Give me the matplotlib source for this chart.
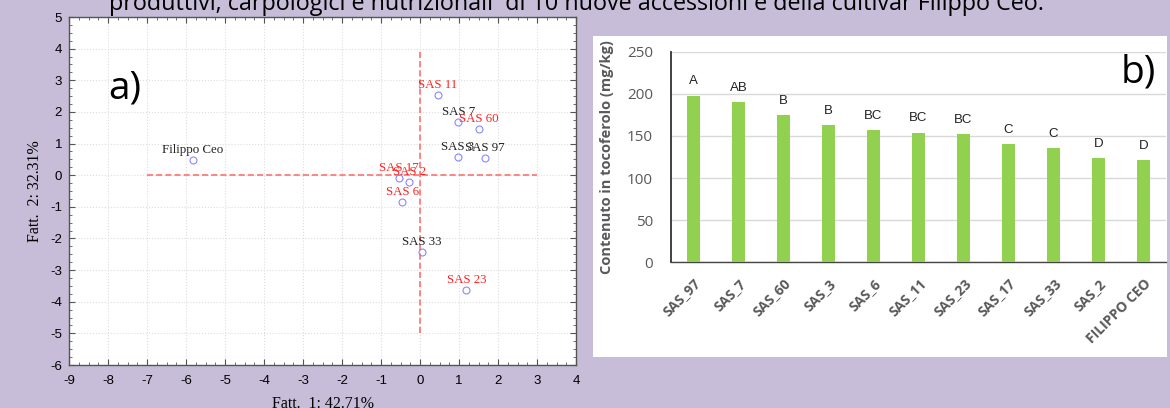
import matplotlib.pyplot as plt
from matplotlib.patches import Rectangle
from matplotlib.ticker import MultipleLocator

plt.rcParams["axes.unicode_minus"] = False

# PCA scores (panel a)
pca_names = ["Filippo Ceo", "SAS 11", "SAS 7", "SAS 60", "SAS 3", "SAS 97",
             "SAS 17", "SAS 2", "SAS 6", "SAS 33", "SAS 23"]
pca_f1 = [-5.82, 0.45, 0.98, 1.52, 0.97, 1.66, -0.53, -0.27, -0.45, 0.04, 1.19]
pca_f2 = [0.47, 2.54, 1.69, 1.47, 0.57, 0.55, -0.10, -0.22, -0.84, -2.44, -3.64]
pca_red = [False, True, False, True, False, False, True, True, True, False, True]

# tocopherol content (panel b)
cultivars = ["SAS_97", "SAS_7", "SAS_60", "SAS_3", "SAS_6", "SAS_11", "SAS_23",
             "SAS_17", "SAS_33", "SAS_2", "FILIPPO CEO"]
tocoferolo = [198, 190, 175, 163, 157, 154, 152, 140.5, 135.5, 123.5, 121.5]
lettere = ["A", "AB", "B", "B", "BC", "BC", "BC", "C", "C", "D", "D"]

bg = "#c7bdd9"
fig = plt.figure(figsize=(11.7, 4.08), dpi=100, facecolor=bg)

fig.text(109 / 1170, 1 - 10 / 408,
         "produttivi, carpologici e nutrizionali  di 10 nuove accessioni e della cultivar Filippo Ceo.",
         fontsize=16.8, family="Open Sans", va="baseline", ha="left", color="black")

# ---- panel a ----
ax1 = fig.add_axes([69 / 1170, 43 / 408, 507 / 1170, 348 / 408])
ax1.set_facecolor("white")
ax1.set_xlim(-9, 4)
ax1.set_ylim(-6, 5)
ax1.xaxis.set_major_locator(MultipleLocator(1))
ax1.yaxis.set_major_locator(MultipleLocator(1))
ax1.xaxis.set_minor_locator(MultipleLocator(0.25))
ax1.yaxis.set_minor_locator(MultipleLocator(0.25))
ax1.tick_params(which="both", direction="in", top=True, right=True, color="#555555")
ax1.tick_params(which="major", length=4, labelsize=9.5)
ax1.tick_params(axis="x", which="major", pad=7)
ax1.tick_params(axis="y", which="major", pad=5)
ax1.tick_params(which="minor", length=2)
for lab in ax1.get_xticklabels() + ax1.get_yticklabels():
    lab.set_family("Liberation Sans")
ax1.grid(True, which="major", color="#dddddd", linestyle=":", linewidth=0.8)
ax1.set_axisbelow(True)
for s in ax1.spines.values():
    s.set_color("#555555")
    s.set_linewidth(1.0)

ax1.plot([-7, 3], [0, 0], color="#ff6666", linestyle=(0, (4, 2)), linewidth=1.1)
ax1.plot([0, 0], [-5, 4], color="#ff6666", linestyle=(0, (4, 2)), linewidth=1.1)

ax1.plot(pca_f1, pca_f2, linestyle="none", marker="o", markersize=5,
         markerfacecolor="none", markeredgecolor="#8888ff", markeredgewidth=0.8)
for name, x, y, red in zip(pca_names, pca_f1, pca_f2, pca_red):
    ax1.annotate(name, (x, y), xytext=(0, 3), textcoords="offset points",
                 ha="center", va="bottom", fontsize=9.3, family="Liberation Serif",
                 color="#ff2222" if red else "#222222")

ax1.set_xlabel("Fatt.  1: 42.71%", family="Liberation Serif", fontsize=11.5, labelpad=7)
ax1.set_ylabel("Fatt.  2: 32.31%", family="Liberation Serif", fontsize=11.5, labelpad=5)
ax1.text(0.11, 0.795, "a)", transform=ax1.transAxes, fontsize=28, family="Open Sans",
         ha="center", va="center")

# ---- panel b ----
fig.patches.append(Rectangle((593 / 1170, 51 / 408), 574 / 1170, 321 / 408,
                             transform=fig.transFigure, facecolor="white",
                             edgecolor="none", zorder=-1))
ax2 = fig.add_axes([671 / 1170, 145.7 / 408, 495 / 1170, 210.6 / 408])
ax2.set_zorder(2)
ax2.set_facecolor("none")
pos = range(len(cultivars))
ax2.bar(pos, tocoferolo, width=0.31, color="#92d050", zorder=3)
for i, (v, l) in enumerate(zip(tocoferolo, lettere)):
    ax2.annotate(l, (i, v), xytext=(0, 6), textcoords="offset points", ha="center",
                 va="bottom", fontsize=9.5, family="Liberation Sans", color="#222222")
ax2.set_xlim(-0.5, 10.5)
ax2.set_ylim(0, 250)
ax2.yaxis.set_major_locator(MultipleLocator(50))
ax2.grid(True, axis="y", color="#d9d9d9", linewidth=1.0)
ax2.set_axisbelow(True)
for s in ["top", "right"]:
    ax2.spines[s].set_visible(False)
ax2.spines["left"].set_color("#333333")
ax2.spines["left"].set_linewidth(1.3)
ax2.spines["bottom"].set_color("#444444")
ax2.spines["bottom"].set_linewidth(1.0)
ax2.tick_params(axis="both", length=0)
ax2.tick_params(axis="y", labelsize=11, labelcolor="#595959", pad=13)
ax2.tick_params(axis="x", pad=10)
ax2.set_xticks(list(pos))
ax2.set_xticklabels(cultivars, rotation=45, ha="right", rotation_mode="anchor",
                    fontsize=10, fontweight="bold", color="#595959", family="Open Sans")
for lab in ax2.get_yticklabels():
    lab.set_family("Open Sans")
ax2.set_ylabel("Contenuto in tocoferolo (mg/kg)", fontsize=10.5, fontweight="bold",
               color="#595959", family="Open Sans", labelpad=9)
ax2.text(0.945, 0.9, "b)", transform=ax2.transAxes, fontsize=28, family="Open Sans",
         ha="center", va="center")

fig.savefig("out.png", dpi=100, facecolor=bg)
